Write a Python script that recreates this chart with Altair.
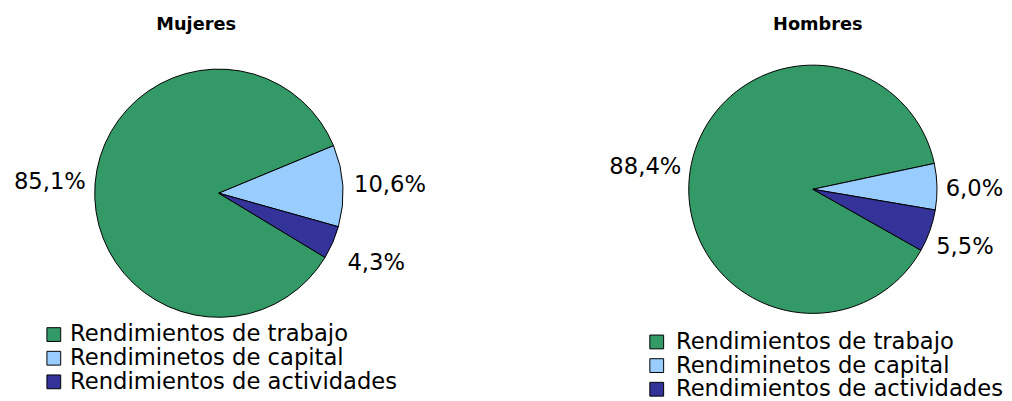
import math
import altair as alt
import pandas as pd

categorias = ["Rendimientos de trabajo", "Rendiminetos de capital", "Rendimientos de actividades"]
orden = [2, 0, 1]
mujeres = [85.1, 10.6, 4.3]
hombres = [88.4, 6.0, 5.5]
etiquetas_m = ["85,1%", "10,6%", "4,3%"]
etiquetas_h = ["88,4%", "6,0%", "5,5%"]
colores = ["#339966", "#99CCFF", "#333399"]

FONT = "DejaVu Sans"


def panel(valores, etiquetas, titulo, cx, cy, start_deg, tx, ty, label_r, title_x,
          leg_x, leg_y, leg_off):
    df = pd.DataFrame({"cat": categorias, "valor": valores, "orden": orden, "etq": etiquetas})
    start = math.radians(start_deg)
    theta = alt.Theta("valor:Q", stack=True,
                      scale=alt.Scale(range=[start, start + 2 * math.pi]))
    base = alt.Chart(df)
    arc = base.mark_arc(outerRadius=126, stroke="black", strokeWidth=1).encode(
        theta=theta,
        order=alt.Order("orden:Q"),
        x=alt.value(cx), y=alt.value(cy),
        color=alt.Color("cat:N",
                        scale=alt.Scale(domain=categorias, range=colores),
                        legend=alt.Legend(orient="none", legendX=leg_x, legendY=leg_y,
                                          title=None, symbolType="square", symbolSize=196,
                                          symbolStrokeColor="black", symbolStrokeWidth=1,
                                          labelFontSize=23, labelFont=FONT, labelColor="black",
                                          rowPadding=0, labelOffset=leg_off, padding=0,
                                          labelLimit=0)),
    )
    text = base.mark_text(radius=label_r, fontSize=23, font=FONT, color="black").encode(
        theta=theta,
        order=alt.Order("orden:Q"),
        x=alt.value(tx), y=alt.value(ty),
        text="etq:N",
    )
    tit = alt.Chart(pd.DataFrame({"t": [titulo]})).mark_text(
        fontSize=18, fontWeight="bold", font=FONT, color="black", baseline="alphabetic"
    ).encode(x=alt.value(title_x), y=alt.value(19), text="t:N")
    return alt.layer(arc, text, tit).properties(width=500, height=385)


izq = panel(mujeres, etiquetas_m, "Mujeres", 214, 185, 67.5, 215, 187, 173, 191, 35, 317, 5)
der = panel(hombres, etiquetas_h, "Hombres", 317, 181, 78.0, 313, 184, 168, 322, 147, 324.5, 8)

chart = alt.hconcat(izq, der, spacing=0).resolve_scale(color="independent", theta="independent").properties(
    padding=0
).configure_view(stroke=None)

chart.save("out.html", embed_options={"renderer": "svg", "actions": False})
